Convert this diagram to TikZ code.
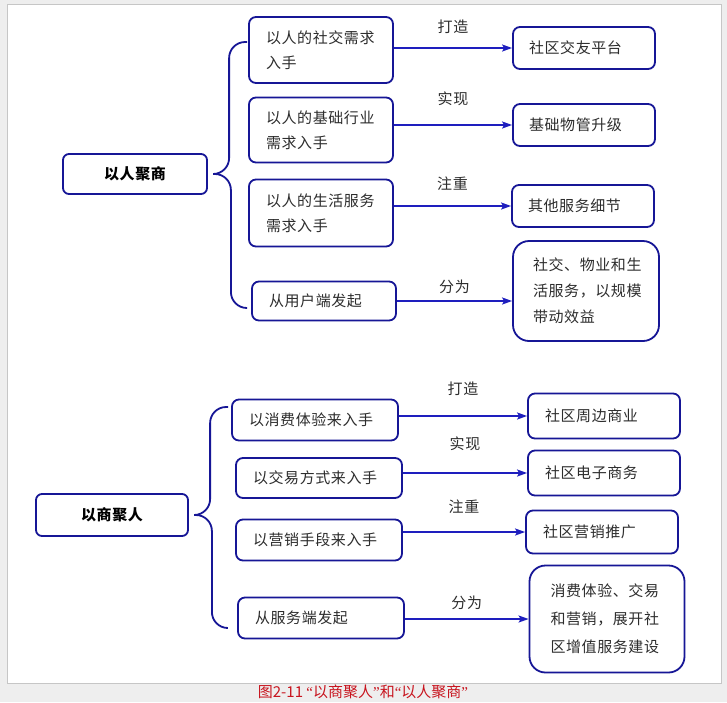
\documentclass[tikz,border=0pt]{standalone}
\usepackage{fontspec}
\setmainfont{Noto Sans CJK SC}[LetterSpace=4]
\newfontfamily\capfont{Noto Sans CJK SC}
\newfontfamily\quotefont{Liberation Serif}
\usepackage{tikz}
\usetikzlibrary{arrows.meta}
\definecolor{boxblue}{RGB}{22,22,150}
\definecolor{arrowblue}{RGB}{30,30,190}
\definecolor{textgray}{RGB}{45,45,45}
\definecolor{capred}{RGB}{200,20,30}
\definecolor{pagegray}{RGB}{238,238,238}
\newcommand{\capql}{{\quotefont“}}
\newcommand{\capqr}{{\quotefont”}}
\tikzstyle{root} = [rectangle, draw=boxblue, line width=1.8pt, rounded corners=6pt, minimum width=144pt, minimum height=40pt, font=\bfseries\fontsize{15}{17}\selectfont, text=black]
\tikzstyle{box} = [rectangle, draw=boxblue, line width=1.8pt, rounded corners=7pt, inner xsep=17pt, align=left, text=textgray, font=\fontsize{15}{25}\selectfont]
\tikzstyle{cause} = [box, text width=110pt]
\tikzstyle{result} = [box, text width=110pt, inner xsep=16pt, minimum height=42pt]
\tikzstyle{bigresult} = [box, rounded corners=16pt, inner xsep=20pt, text width=106pt]
\tikzstyle{label} = [text=textgray, font=\fontsize{15}{17}\selectfont]
\tikzstyle{arrow} = [line width=1.6pt, draw=arrowblue, -{Stealth[length=10pt, width=7pt, inset=2pt]}]
\tikzstyle{brace} = [line width=1.8pt, draw=boxblue, rounded corners=16pt]

\begin{document}
\begin{tikzpicture}[x=1pt, y=-1pt, node distance=80pt]
\useasboundingbox (0,0) rectangle (727,702);
\fill [pagegray] (0,0) rectangle (727,702);
\draw [gray!45, fill=white] (7,4) rectangle (721,683);

% 以人聚商
\node (root1)	[root] at (135,174)							{以人聚商};
\node (way1)	[cause, minimum height=66pt, right of=root1, xshift=106pt, yshift=124pt]	{以人的社交需求\\入手};
\node (way2)	[cause, minimum height=65pt, below of=way1]				{以人的基础行业\\需求入手};
\node (way3)	[cause, minimum height=67pt, below of=way2, yshift=-3pt]		{以人的生活服务\\需求入手};
\node (way4)	[cause, minimum height=39pt, below of=way3, xshift=3pt, yshift=-8pt]	{从用户端发起};
\node (res1)	[result, right of=way1, xshift=183pt, yshift=2pt]			{社区交友平台};
\node (res2)	[result, right of=way2, xshift=183pt, yshift=5pt]			{基础物管升级};
\node (res3)	[result, right of=way3, xshift=182pt, yshift=7pt]			{其他服务细节};
\node (res4)	[bigresult, minimum height=100pt, font=\fontsize{15}{26}\selectfont, right of=way4, xshift=182pt, yshift=10pt]	{社交、物业和生\\活服务，以规模\\带动效益};

\coordinate (tip1) at ([xshift=8pt]root1.east);
\coordinate (top1) at ([xshift=-1pt, yshift=8pt]way1.west);
\coordinate (bot1) at ([xshift=-4pt, yshift=-7pt]way4.west);
\draw [brace] (top1) -- ++(-18pt,0) |- (tip1);
\draw [brace] (tip1) -- ++(15pt,0) |- (bot1);

\draw [arrow] (way1.east |- res1.west) -- node[label, midway, above=10pt] {打造} (res1.west);
\draw [arrow] (way2.east |- res2.west) -- node[label, midway, above=15pt] {实现} (res2.west);
\draw [arrow] (way3.east |- res3.west) -- node[label, midway, above=11pt] {注重} (res3.west);
\draw [arrow] (way4.east) -- node[label, midway, above=3pt] {分为} (way4.east -| res4.west);

% 以商聚人
\node (root2)	[root, minimum width=152pt, minimum height=42pt] at (112,515)		{以商聚人};
\node (way5)	[cause, text width=132pt, minimum height=41pt, right of=root2, xshift=123pt, yshift=95pt]	{以消费体验来入手};
\node (way6)	[cause, text width=132pt, minimum height=40pt, below of=way5, xshift=4pt, yshift=22pt]	{以交易方式来入手};
\node (way7)	[cause, text width=132pt, minimum height=41pt, below of=way6, yshift=18pt]	{以营销手段来入手};
\node (way8)	[cause, text width=132pt, minimum height=41pt, below of=way7, xshift=2pt, yshift=2pt]	{从服务端发起};
\node (res5)	[result, text width=118pt, inner xsep=17pt, minimum height=45pt, right of=way5, xshift=209pt, yshift=4pt]	{社区周边商业};
\node (res6)	[result, text width=118pt, inner xsep=17pt, minimum height=45pt, right of=way6, xshift=205pt, yshift=5pt]	{社区电子商务};
\node (res7)	[result, text width=118pt, inner xsep=17pt, minimum height=43pt, right of=way7, xshift=203pt, yshift=8pt]	{社区营销推广};
\node (res8)	[bigresult, text width=113pt, inner xsep=21pt, minimum height=107pt, font=\fontsize{15}{28}\selectfont, right of=way8, xshift=206pt, yshift=-1pt]	{消费体验、交易\\和营销，展开社\\区增值服务建设};

\coordinate (tip2) at ([xshift=7pt]root2.east);
\coordinate (top2) at ([xshift=-3pt, yshift=13pt]way5.west);
\coordinate (bot2) at ([xshift=-10pt, yshift=-10pt]way8.west);
\draw [brace] (top2) -- ++(-18pt,0) |- (tip2);
\draw [brace] (tip2) -- ++(16pt,0) |- (bot2);

\draw [arrow] (way5.east |- res5.west) -- node[label, midway, above=16pt] {打造} (res5.west);
\draw [arrow] (way6.east |- res6.west) -- node[label, midway, above=18pt] {实现} (res6.west);
\draw [arrow] (way7.east |- res7.west) -- node[label, midway, above=14pt] {注重} (res7.west);
\draw [arrow] (way8.east |- res8.west) -- node[label, midway, above=5pt] {分为} (res8.west);

\node (cap) [text=capred, font=\capfont\fontsize{15}{17}\selectfont] at (363,692) {图2-11 \capql 以商聚人\capqr 和\capql 以人聚商\capqr};

\end{tikzpicture}
\end{document}
